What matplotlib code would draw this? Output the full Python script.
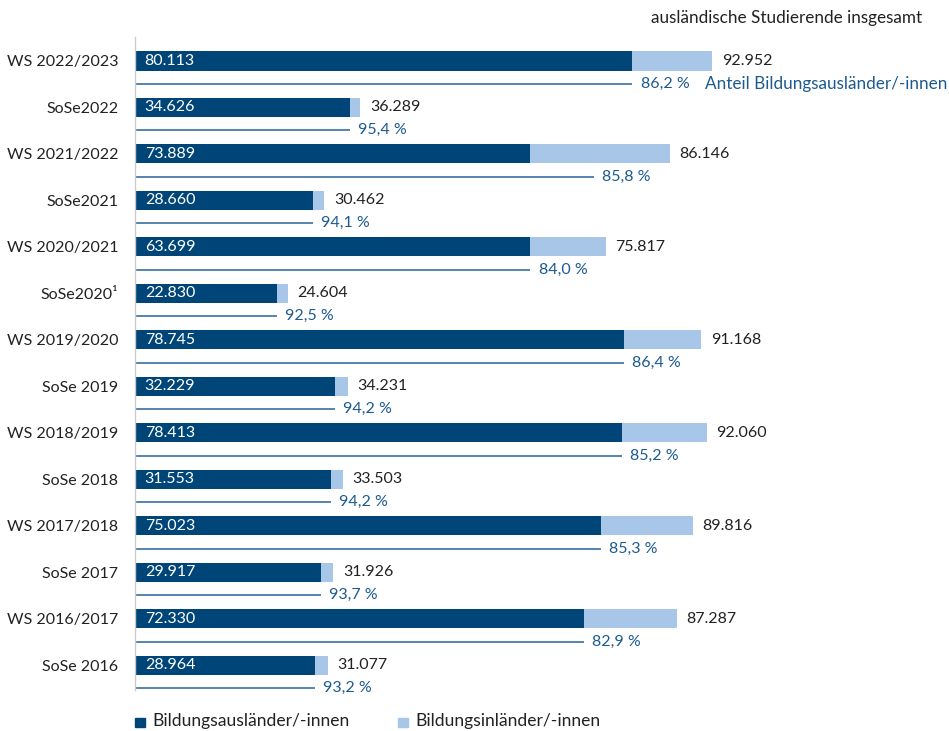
import matplotlib
matplotlib.use("Agg")
import matplotlib.pyplot as plt
from matplotlib.patches import Rectangle

plt.rcParams['font.family'] = ['Lato', 'DejaVu Sans']

labels = ["WS 2022/2023", "SoSe2022", "WS 2021/2022", "SoSe2021", "WS 2020/2021",
          "SoSe2020¹", "WS 2019/2020", "SoSe 2019", "WS 2018/2019", "SoSe 2018",
          "WS 2017/2018", "SoSe 2017", "WS 2016/2017", "SoSe 2016"]
auslaender = [80113, 34626, 73889, 28660, 63699, 22830, 78745, 32229, 78413, 31553,
              75023, 29917, 72330, 28964]
# dark segment length as drawn in the reference (WS 2021/2022 segment is drawn shorter)
auslaender_drawn = [80113, 34626, 63700, 28660, 63699, 22830, 78745, 32229, 78413, 31553,
                    75023, 29917, 72330, 28964]
total = [92952, 36289, 86146, 30462, 75817, 24604, 91168, 34231, 92060, 33503,
         89816, 31926, 87287, 31077]
share = [86.2, 95.4, 85.8, 94.1, 84.0, 92.5, 86.4, 94.2, 85.2, 94.2, 85.3, 93.7, 82.9, 93.2]

series_names = ["Bildungsausländer/-innen", "Bildungsinländer/-innen"]
header = "ausländische Studierende insgesamt"
share_note = "Anteil Bildungsausländer/-innen"

DARK = "#004577"
LIGHT = "#a7c6e8"
PCT = "#1d5a90"
LINE = "#4a79a7"
TXT = "#222222"

def de(n):
    return f"{n:,}".replace(",", ".")

def de_pct(p):
    return f"{p:.1f}".replace(".", ",") + " %"

fig = plt.figure(figsize=(9.49, 7.31), dpi=100)
ax = fig.add_axes([135/949, 1-690/731, 1-135/949, (690-37)/731])
ax.set_xlim(0, 131120)
ax.set_ylim(13.53, -0.516)

ys = list(range(len(labels)))
inl = [t - a for t, a in zip(total, auslaender_drawn)]
bh = 0.41
ax.barh(ys, auslaender_drawn, height=bh, color=DARK, label=series_names[0])
ax.barh(ys, inl, left=auslaender_drawn, height=bh, color=LIGHT, label=series_names[1])

fs = 11.5
fs2 = 12.3
for y, a, t, p in zip(ys, auslaender, total, share):
    ax.annotate(de(a), (0, y), xytext=(7, 0), textcoords="offset points",
                ha="left", va="center", color="white", fontsize=fs)
    ax.annotate(de(t), (t, y), xytext=(7, 0), textcoords="offset points",
                ha="left", va="center", color=TXT, fontsize=fs)
    ax.plot([0, a], [y + 0.49, y + 0.49], color=LINE, lw=1.3, solid_capstyle="butt")
    ax.annotate(de_pct(p), (a, y + 0.49), xytext=(6, 0), textcoords="offset points",
                ha="left", va="center", color=PCT, fontsize=fs)
    if y == 0:
        ax.annotate(share_note, (a, y + 0.49), xytext=(52, 0), textcoords="offset points",
                    ha="left", va="center", color=PCT, fontsize=fs2)

ax.set_yticks(ys)
ax.set_yticklabels(labels, fontsize=fs, color=TXT)
ax.tick_params(axis="y", length=0, pad=12)
ax.set_xticks([])
for s in ["top", "right", "bottom"]:
    ax.spines[s].set_visible(False)
ax.spines["left"].set_color("#cccccc")
ax.spines["left"].set_linewidth(1.0)

fig.text(922/949, 1-18/731, header, ha="right", va="center", fontsize=fs2, color=TXT)

# legend
lx = [135, 398]
for i, name in enumerate(series_names):
    col = DARK if i == 0 else LIGHT
    fig.patches.append(Rectangle((lx[i] / 949, 1 - 727/731), 10/949, 9/731,
                                 transform=fig.transFigure, color=col))
    fig.text((lx[i] + 17) / 949, 1 - 721/731, name, ha="left", va="center",
             fontsize=12.6, color=TXT)

fig.savefig("out.png", dpi=100)
